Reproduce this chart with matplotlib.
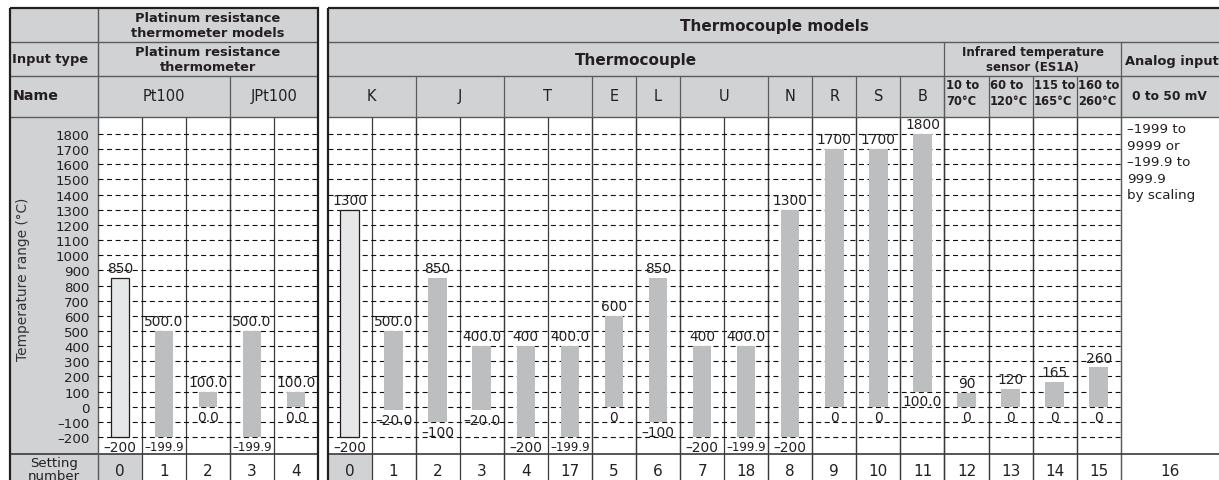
import matplotlib.pyplot as plt
from matplotlib.patches import Rectangle

# ---- data ----
pt_settings = [0, 1, 2, 3, 4]
pt_low = [-200, -199.9, 0.0, -199.9, 0.0]
pt_high = [850, 500.0, 100.0, 500.0, 100.0]
pt_low_txt = ["\u2013200", "\u2013199.9", "0.0", "\u2013199.9", "0.0"]
pt_high_txt = ["850", "500.0", "100.0", "500.0", "100.0"]
pt_default = [True, False, False, False, False]
pt_names = [("Pt100", 3), ("JPt100", 2)]

tc_settings = [0, 1, 2, 3, 4, 17, 5, 6, 7, 18, 8, 9, 10, 11, 12, 13, 14, 15]
tc_low = [-200, -20.0, -100, -20.0, -200, -199.9, 0, -100, -200, -199.9,
          -200, 0, 0, 100.0, 0, 0, 0, 0]
tc_high = [1300, 500.0, 850, 400.0, 400, 400.0, 600, 850, 400, 400.0,
           1300, 1700, 1700, 1800, 90, 120, 165, 260]
tc_low_txt = ["\u2013200", "\u201320.0", "\u2013100", "\u201320.0", "\u2013200", "\u2013199.9",
              "0", "\u2013100", "\u2013200", "\u2013199.9", "\u2013200", "0", "0", "100.0",
              "0", "0", "0", "0"]
tc_high_txt = ["1300", "500.0", "850", "400.0", "400", "400.0", "600", "850", "400",
               "400.0", "1300", "1700", "1700", "1800", "90", "120", "165", "260"]
tc_default = [True] + [False] * 17
tc_names = [("K", 2), ("J", 2), ("T", 2), ("E", 1), ("L", 1), ("U", 2),
            ("N", 1), ("R", 1), ("S", 1), ("B", 1)]
ir_names = ["10 to\n70\u00b0C", "60 to\n120\u00b0C", "115 to\n165\u00b0C", "160 to\n260\u00b0C"]
analog_setting = 16
analog_text = "\u20131999 to\n9999 or\n\u2013199.9 to\n999.9\nby scaling"

y_ticks = list(range(-200, 1900, 100))
y_lim = (-312, 1912)

# ---- styling / layout (pixels) ----
W, H = 1219, 481
HDR = "#d1d2d4"
BAR = "#bcbec0"
DEF = "#e6e7e8"
INK = "#231f20"
LINE = "#5a5b5d"

Y0, R1, R2, R3, R4, YB = 9, 43, 77, 118, 455, 489
LX0, LX1, LCW = 10, 98, 44.0
RX0, RCW = 327.5, 44.07
RX_TC = RX0 + 18 * RCW
RX1 = W + 3

plt.rcParams['font.family'] = ['DejaVu Sans']

fig = plt.figure(figsize=(W / 100, H / 100), dpi=100)
bg = fig.add_axes([0, 0, 1, 1])
bg.set_xlim(0, W)
bg.set_ylim(H, 0)
bg.axis('off')


def fill(x0, x1, y0, y1, color=HDR):
    bg.add_patch(Rectangle((x0, y0), x1 - x0, y1 - y0, facecolor=color, edgecolor='none', zorder=0))


def hline(y, x0, x1, lw=1.0, color=LINE):
    bg.plot([x0, x1], [y, y], color=color, lw=lw, zorder=2, solid_capstyle='butt')


def vline(x, y0, y1, lw=0.9, color=LINE):
    bg.plot([x, x], [y0, y1], color=color, lw=lw, zorder=2, solid_capstyle='butt')


def txt(x, y, s, size=9.4, bold=True, ha='center', ls=1.15):
    bg.text(x, y, s, ha=ha, va='center', fontsize=size, color=INK,
            fontweight='bold' if bold else 'normal', linespacing=ls, zorder=3)


# ---- header fills ----
fill(LX0, LX1 + 5 * LCW, Y0, R3)
fill(LX0, LX1, R3, YB)
fill(LX1, LX1 + LCW, R4, YB)
fill(RX0, RX1, Y0, R3)
fill(RX0, RX0 + RCW, R4, YB)

# ---- left table ----
lx_end = LX1 + 5 * LCW
txt((LX1 + lx_end) / 2, (Y0 + R1) / 2, "Platinum resistance\nthermometer models")
txt(12, (R1 + R2) / 2, "Input type", ha='left')
txt((LX1 + lx_end) / 2, (R1 + R2) / 2, "Platinum resistance\nthermometer")
txt(13, (R2 + R3) / 2 - 1, "Name", size=10.3, ha='left')
pos = 0
for name, span in pt_names:
    txt(LX1 + (pos + span / 2) * LCW, (R2 + R3) / 2 - 1, name, size=10.5, bold=False)
    pos += span
    if pos < len(pt_settings):
        vline(LX1 + pos * LCW, R2, YB)
for i in range(1, len(pt_settings)):
    vline(LX1 + i * LCW, R3, YB, color="#3a3a3c")
txt((LX0 + LX1) / 2, 470, "Setting\nnumber", size=9.5, bold=False, ls=1.0)
for i, s in enumerate(pt_settings):
    txt(LX1 + (i + 0.5) * LCW, 472, str(s), size=11, bold=False)
for y in (R1, R2, R3):
    hline(y, LX0, lx_end)
hline(R4, LX0, lx_end, lw=1.2, color="#3a3a3c")
vline(LX1, Y0, YB, lw=1.0)
bg.add_patch(Rectangle((LX0, Y0), lx_end - LX0, YB - Y0, fill=False, edgecolor=INK, lw=1.6, zorder=4))

# ---- right table ----
txt((RX0 + W + 3) / 2, (Y0 + R1) / 2, "Thermocouple models", size=11)
tc_end = RX0 + 14 * RCW
txt((RX0 + tc_end) / 2, (R1 + R2) / 2, "Thermocouple", size=11)
txt((tc_end + RX_TC) / 2, (R1 + R2) / 2, "Infrared temperature\nsensor (ES1A)", size=8.5, ls=1.25)
txt((RX_TC + RX1) / 2, (R1 + R2) / 2 + 2, "Analog input")
pos = 0
for name, span in tc_names:
    txt(RX0 + (pos + span / 2) * RCW, (R2 + R3) / 2 - 1, name, size=10.5, bold=False)
    pos += span
    vline(RX0 + pos * RCW, R2, YB)
for k, name in enumerate(ir_names):
    txt(RX0 + (pos + k) * RCW + 1.5, (R2 + R3) / 2 - 4, name, size=8.3, ha='left', ls=1.25)
    vline(RX0 + (pos + k + 1) * RCW, R2, YB)
txt((RX_TC + W) / 2, (R2 + R3) / 2 - 1, "0 to 50 mV", size=8.8)
vline(tc_end, R1, YB)
vline(RX_TC, R1, YB)
for i in range(1, len(tc_settings)):
    vline(RX0 + i * RCW, R3, YB, color="#3a3a3c")
for i, s in enumerate(tc_settings):
    txt(RX0 + (i + 0.5) * RCW, 472, str(s), size=11, bold=False)
txt((RX_TC + W) / 2, 472, str(analog_setting), size=11, bold=False)
bg.text(RX_TC + 6, 123, analog_text, ha='left', va='top', fontsize=9.7, color=INK,
        linespacing=1.36, zorder=3)
for y in (R1, R2, R3):
    hline(y, RX0, RX1)
hline(R4, RX0, RX1, lw=1.2, color="#3a3a3c")
bg.add_patch(Rectangle((RX0, Y0), RX1 - RX0, YB - Y0, fill=False, edgecolor=INK, lw=1.6, zorder=4))


# ---- range charts ----
def range_axes(x0, x1, n, lows, highs, low_txt, high_txt, defaults, show_ticks):
    ax = fig.add_axes([x0 / W, 1 - R4 / H, (x1 - x0) / W, (R4 - R3) / H])
    ax.set_facecolor('none')
    ax.set_xlim(0, n)
    ax.set_ylim(*y_lim)
    ax.set_yticks(y_ticks)
    ax.set_axisbelow(True)
    ax.grid(axis='y', color='#111111', lw=0.8, linestyle=(0, (4.5, 3.2)))
    ax.set_xticks([])
    for sp in ax.spines.values():
        sp.set_visible(False)
    if show_ticks:
        ax.set_yticklabels([("\u2013%d" % -t) if t < 0 else str(t) for t in y_ticks],
                           fontsize=9.6, color=INK)
        ax.tick_params(axis='y', length=0, pad=6)
        ax.set_ylabel("Temperature range (\u00b0C)", fontsize=9.9, color="#333333")
        ax.yaxis.set_label_coords((30 - LX1) / (x1 - x0), 0.52)
    else:
        ax.tick_params(axis='y', length=0, labelleft=False)
    xs = [i + 0.5 for i in range(n)]
    heights = [h - l for l, h in zip(lows, highs)]
    faces = [DEF if d else BAR for d in defaults]
    edges = [INK if d else 'none' for d in defaults]
    ax.bar(xs, heights, bottom=lows, width=0.42, color=faces, edgecolor=edges,
           linewidth=0.9, zorder=3)
    for x, l, h, lt, ht in zip(xs, lows, highs, low_txt, high_txt):
        ax.annotate(ht, (x, h), xytext=(0, 2), textcoords='offset points',
                    ha='center', va='bottom', fontsize=9.9 if len(ht) < 6 else 8.5,
                    color=INK, zorder=5)
        ax.annotate(lt, (x, l), xytext=(0, -2), textcoords='offset points',
                    ha='center', va='top', fontsize=9.9 if len(lt) < 6 else 8.5,
                    color=INK, zorder=5)
    return ax


range_axes(LX1, lx_end, len(pt_settings), pt_low, pt_high, pt_low_txt, pt_high_txt,
           pt_default, True)
range_axes(RX0, RX_TC, len(tc_settings), tc_low, tc_high, tc_low_txt, tc_high_txt,
           tc_default, False)

fig.savefig("out.png", dpi=100)
